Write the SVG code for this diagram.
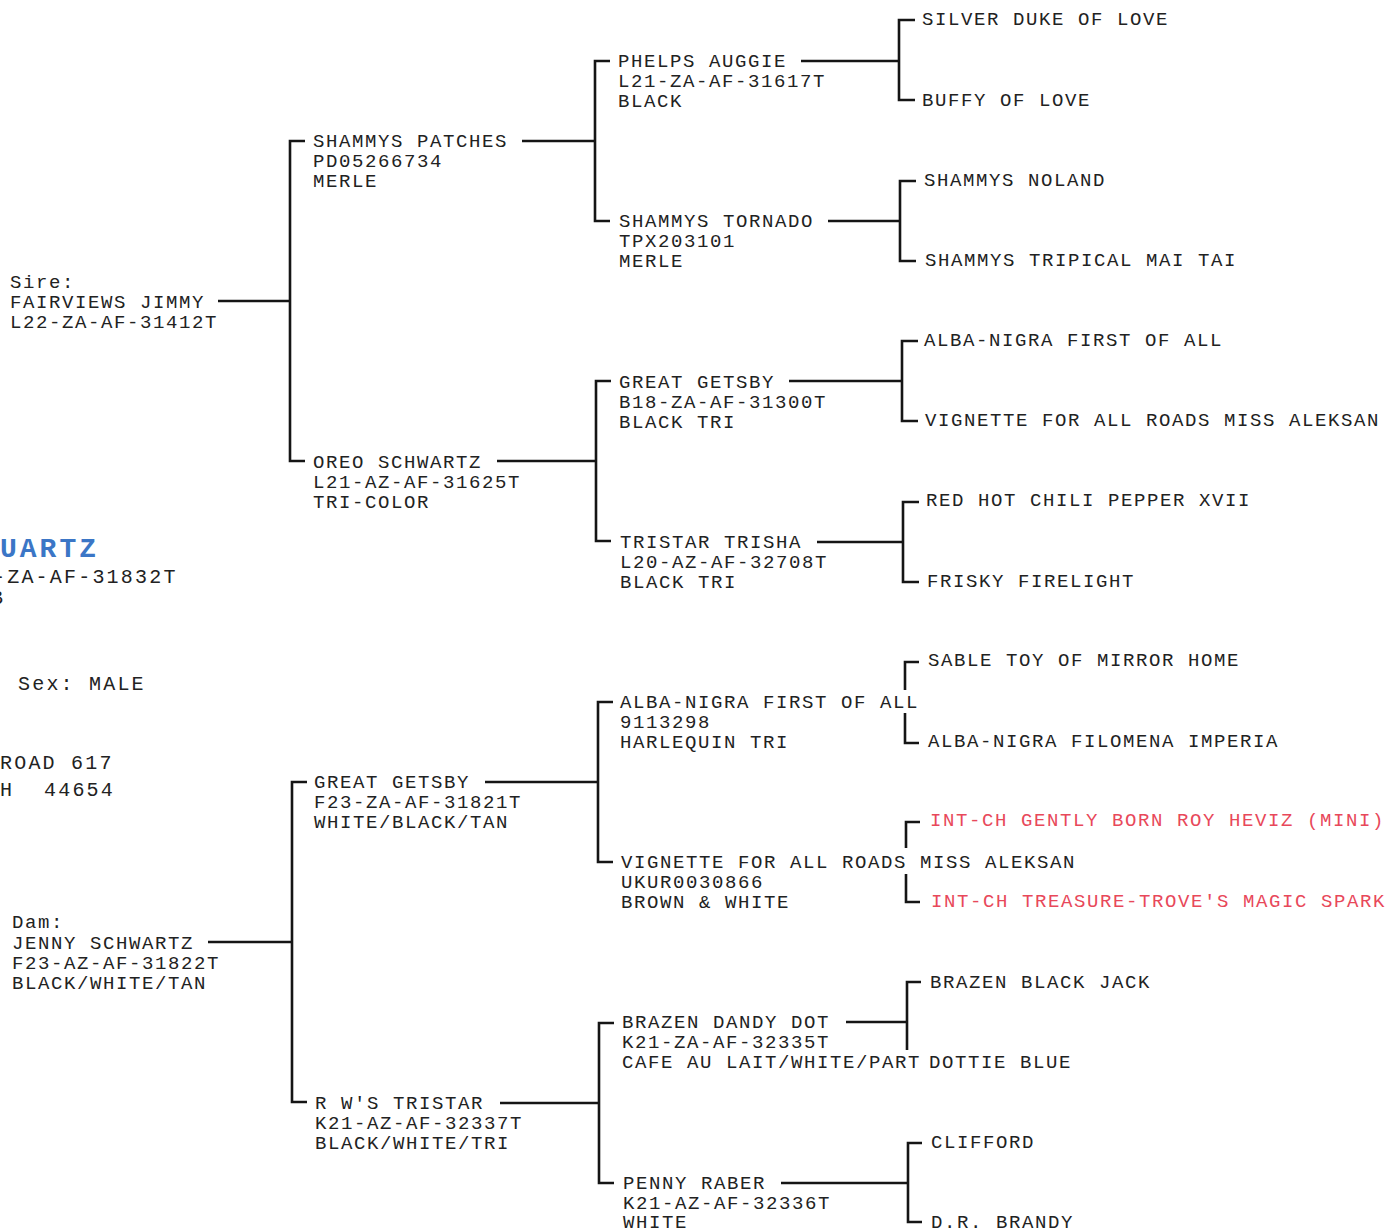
<svg xmlns="http://www.w3.org/2000/svg" width="1385" height="1229" viewBox="0 0 1385 1229">
<style>
.t{font-family:"Liberation Mono","Courier New",monospace;font-size:19px;letter-spacing:1.6px;fill:#222222;}
.s{font-size:20px;letter-spacing:2.2px;}
.r{fill:#e8485a;}
.b{font-weight:bold;font-size:28px;letter-spacing:3px;fill:#3b76c6;}
.c{fill:none;stroke:#151515;stroke-width:2.6;}
</style>
<rect width="1385" height="1229" fill="#ffffff"/>
<g id="connectors" class="c">
<path d="M218,301 H290"/><path d="M305,141 H290 V461 H305"/>
<path d="M208,942 H292"/><path d="M307,782 H292 V1102 H307"/>
<path d="M522,141 H595"/><path d="M610,61 H595 V221 H610"/>
<path d="M497,461 H596"/><path d="M611,381 H596 V541 H611"/>
<path d="M485,782 H598"/><path d="M613,702 H598 V862 H613"/>
<path d="M500,1103 H599"/><path d="M614,1023 H599 V1183 H614"/>
<path d="M801,61 H899"/><path d="M915,20 H899 V100 H915"/>
<path d="M828,221 H900"/><path d="M916,181 H900 V261 H916"/>
<path d="M789,381 H902"/><path d="M918,341 H902 V421 H918"/>
<path d="M817,542 H903"/><path d="M919,502 H903 V582 H919"/>
<path d="M919,662 H905 V690"/><path d="M905,713 V743 H919"/>
<path d="M920,822 H906 V848"/><path d="M906,874 V902 H920"/>
<path d="M846,1022 H907"/><path d="M921,982 H907 V1050"/>
<path d="M781,1183 H908"/><path d="M922,1143 H908 V1222 H922"/>
</g>
<g id="subject">
<text class="t b" x="0" y="557">UARTZ</text>
<text class="t s" x="-7" y="583">-ZA-AF-31832T</text>
<text class="t s" x="-9" y="604">B</text>
<text class="t s" x="18" y="690">Sex: MALE</text>
<text class="t s" x="0" y="769">ROAD 617</text>
<text class="t s" x="0" y="796">H</text>
<text class="t s" x="44" y="796">44654</text>
</g>
<g id="sire" class="t"><text x="10" y="288">Sire:</text><text x="10" y="308">FAIRVIEWS JIMMY</text><text x="10" y="328">L22-ZA-AF-31412T</text></g>
<g id="dam" class="t"><text x="12" y="928">Dam:</text><text x="12" y="949">JENNY SCHWARTZ</text><text x="12" y="969">F23-AZ-AF-31822T</text><text x="12" y="989">BLACK/WHITE/TAN</text></g>
<g id="ss" class="t"><text x="313" y="147">SHAMMYS PATCHES</text><text x="313" y="167">PD05266734</text><text x="313" y="187">MERLE</text></g>
<g id="sd" class="t"><text x="313" y="468">OREO SCHWARTZ</text><text x="313" y="488">L21-AZ-AF-31625T</text><text x="313" y="508">TRI-COLOR</text></g>
<g id="ds" class="t"><text x="314" y="788">GREAT GETSBY</text><text x="314" y="808">F23-ZA-AF-31821T</text><text x="314" y="828">WHITE/BLACK/TAN</text></g>
<g id="dd" class="t"><text x="315" y="1109">R W'S TRISTAR</text><text x="315" y="1129">K21-AZ-AF-32337T</text><text x="315" y="1149">BLACK/WHITE/TRI</text></g>
<g id="sss" class="t"><text x="618" y="67">PHELPS AUGGIE</text><text x="618" y="87">L21-ZA-AF-31617T</text><text x="618" y="107">BLACK</text></g>
<g id="ssd" class="t"><text x="619" y="227">SHAMMYS TORNADO</text><text x="619" y="247">TPX203101</text><text x="619" y="267">MERLE</text></g>
<g id="sds" class="t"><text x="619" y="388">GREAT GETSBY</text><text x="619" y="408">B18-ZA-AF-31300T</text><text x="619" y="428">BLACK TRI</text></g>
<g id="sdd" class="t"><text x="620" y="548">TRISTAR TRISHA</text><text x="620" y="568">L20-AZ-AF-32708T</text><text x="620" y="588">BLACK TRI</text></g>
<g id="dss" class="t"><text x="620" y="708">ALBA-NIGRA FIRST OF ALL</text><text x="620" y="728">9113298</text><text x="620" y="748">HARLEQUIN TRI</text></g>
<g id="dsd" class="t"><text x="621" y="868">VIGNETTE FOR ALL ROADS MISS ALEKSAN</text><text x="621" y="888">UKUR0030866</text><text x="621" y="908">BROWN &amp; WHITE</text></g>
<g id="dds" class="t"><text x="622" y="1028">BRAZEN DANDY DOT</text><text x="622" y="1048">K21-ZA-AF-32335T</text><text x="622" y="1068">CAFE AU LAIT/WHITE/PART</text></g>
<g id="ddd" class="t"><text x="623" y="1189">PENNY RABER</text><text x="623" y="1209">K21-AZ-AF-32336T</text><text x="623" y="1228">WHITE</text></g>
<g id="g4a" class="t"><text x="922" y="25">SILVER DUKE OF LOVE</text></g>
<g id="g4b" class="t"><text x="922" y="106">BUFFY OF LOVE</text></g>
<g id="g4c" class="t"><text x="924" y="186">SHAMMYS NOLAND</text></g>
<g id="g4d" class="t"><text x="925" y="266">SHAMMYS TRIPICAL MAI TAI</text></g>
<g id="g4e" class="t"><text x="924" y="346">ALBA-NIGRA FIRST OF ALL</text></g>
<g id="g4f" class="t"><text x="925" y="426">VIGNETTE FOR ALL ROADS MISS ALEKSAN</text></g>
<g id="g4g" class="t"><text x="926" y="506">RED HOT CHILI PEPPER XVII</text></g>
<g id="g4h" class="t"><text x="927" y="587">FRISKY FIRELIGHT</text></g>
<g id="g4i" class="t"><text x="928" y="666">SABLE TOY OF MIRROR HOME</text></g>
<g id="g4j" class="t"><text x="928" y="747">ALBA-NIGRA FILOMENA IMPERIA</text></g>
<g id="g4k" class="t"><text class="t r" x="930" y="826">INT-CH GENTLY BORN ROY HEVIZ (MINI)</text></g>
<g id="g4l" class="t"><text class="t r" x="931" y="907">INT-CH TREASURE-TROVE'S MAGIC SPARK</text></g>
<g id="g4m" class="t"><text x="930" y="988">BRAZEN BLACK JACK</text></g>
<g id="g4n" class="t"><text x="929" y="1068">DOTTIE BLUE</text></g>
<g id="g4o" class="t"><text x="931" y="1148">CLIFFORD</text></g>
<g id="g4p" class="t"><text x="931" y="1228">D.R. BRANDY</text></g>
</svg>
